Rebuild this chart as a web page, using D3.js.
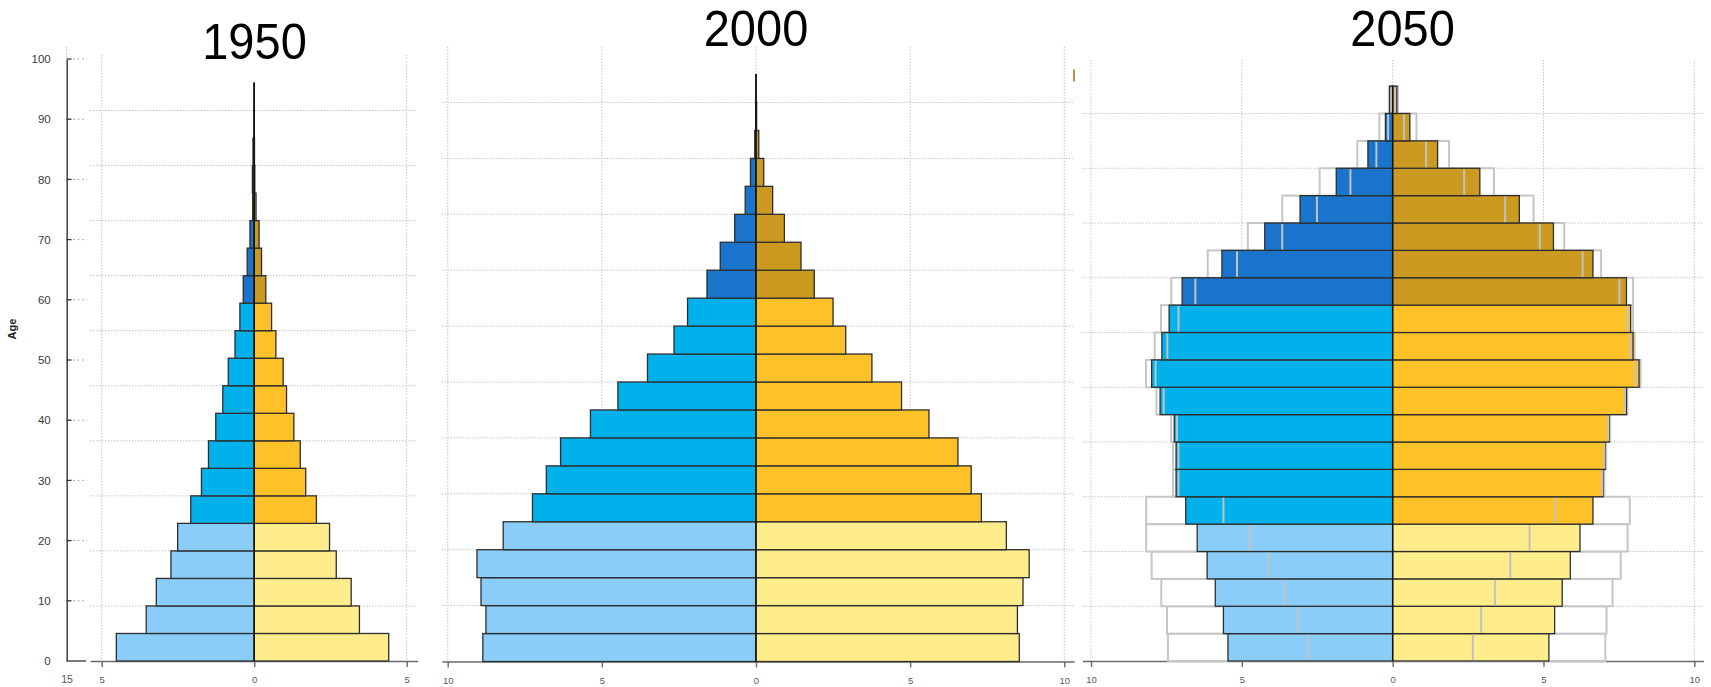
<!DOCTYPE html>
<html>
<head>
<meta charset="utf-8">
<script src="https://cdn.jsdelivr.net/npm/d3@7"></script>
<style>
  body { margin: 0; background: #ffffff; }
  svg { display: block; font-family: "Liberation Sans", Arial, sans-serif; }
</style>
</head>
<body>
<script>

// age groups, bottom to top
var ageGroups = ["0-4", "5-9", "10-14", "15-19", "20-24", "25-29", "30-34", "35-39", "40-44",
                 "45-49", "50-54", "55-59", "60-64", "65-69", "70-74", "75-79", "80-84",
                 "85-89", "90-94", "95-99", "100+"];

// share of population (%) per age group
var male1950   = [4.52, 3.54, 3.21, 2.73, 2.51, 2.08, 1.73, 1.50, 1.26, 1.03, 0.85, 0.63, 0.47, 0.36, 0.23, 0.14, 0.05, 0.06, 0.04, 0.01, 0.005];
var female1950 = [4.41, 3.45, 3.18, 2.69, 2.47, 2.04, 1.69, 1.51, 1.30, 1.06, 0.95, 0.71, 0.57, 0.38, 0.24, 0.16, 0.06, 0.02, 0.01, 0.002, 0.001];

var male2000   = [8.86, 8.76, 8.92, 9.05, 8.20, 7.25, 6.80, 6.34, 5.37, 4.48, 3.52, 2.66, 2.22, 1.59, 1.16, 0.69, 0.35, 0.18, 0.04, 0.01, 0.003];
var female2000 = [8.54, 8.48, 8.66, 8.86, 8.12, 7.31, 6.98, 6.55, 5.61, 4.72, 3.76, 2.91, 2.50, 1.89, 1.46, 0.92, 0.54, 0.25, 0.09, 0.02, 0.005];

var male2050   = [5.46, 5.61, 5.88, 6.15, 6.48, 6.86, 7.18, 7.18, 7.24, 7.71, 7.99, 7.65, 7.41, 6.98, 5.66, 4.24, 3.07, 1.87, 0.82, 0.24, 0.10];
var female2050 = [5.18, 5.37, 5.62, 5.89, 6.21, 6.64, 6.98, 7.05, 7.18, 7.75, 8.17, 7.97, 7.89, 7.75, 6.64, 5.33, 4.20, 2.89, 1.49, 0.57, 0.14];

// 2050 variants: outer grey outline and inner grey marker
var maleHigh2050   = [7.45, 7.48, 7.67, 7.99, 8.17, 8.17, 7.28, 7.28, 7.34, 7.83, 8.18, 7.89, 7.68, 7.34, 6.13, 4.80, 3.66, 2.42, 1.17, 0.44, 0.12];
var femaleHigh2050 = [7.05, 7.09, 7.29, 7.56, 7.79, 7.86, 7.02, 7.08, 7.21, 7.78, 8.22, 8.02, 7.97, 7.97, 6.91, 5.69, 4.67, 3.36, 1.87, 0.79, 0.18];
var maleLow2050    = [2.82, 3.12, 3.56, 4.12, 4.74, 5.61, 7.10, 7.10, 7.15, 7.59, 7.86, 7.47, 7.10, 6.54, 5.16, 3.66, 2.51, 1.40, 0.54, 0.15, 0.05];
var femaleLow2050  = [2.66, 2.93, 3.39, 3.90, 4.54, 5.39, 6.95, 7.02, 7.15, 7.70, 8.06, 7.87, 7.79, 7.52, 6.30, 4.88, 3.73, 2.37, 1.11, 0.38, 0.08];

// tick values
var ageTicks = [0, 10, 20, 30, 40, 50, 60, 70, 80, 90, 100];
var gridAges = [10, 20, 30, 40, 50, 60, 70, 80, 90, 100];
var xTicksSmall = [-5, 0, 5];
var xTicksLarge = [-10, -5, 0, 5, 10];

// colours: children, working age, elderly
var maleColors   = ["#89CDF8", "#00B1EB", "#1B74CB"];
var femaleColors = ["#FFEC8A", "#FEC128", "#CC9A21"];

window.onload = function() {
	draw();
};

// which colour band an age group falls in
function band(i) {
	if (i < 5) return 0;
	if (i < 13) return 1;
	return 2;
}

function draw() {

	var width = 1711, height = 687;

	var svg = d3.select("body")
				.append("svg")
				.attr("width", width)
				.attr("height", height);

	var panels = [
		{title: "1950", titleX: 254.5, titleY: 59, male: male1950, female: female1950,
		 xRange: [101.7, 406.7], xDomain: [-5, 5], axisExt: [-5.38, 5.36], ticks: xTicksSmall, vGrid: [-5, 5],
		 gridX: [90, 417], gridTop: 55, yRange: [661, 110.5], labelPad: 9},
		{title: "2000", titleX: 756, titleY: 46, male: male2000, female: female2000,
		 xRange: [447.7, 1064.3], xDomain: [-10, 10], axisExt: [-10.19, 10.32], ticks: xTicksLarge, vGrid: xTicksLarge,
		 gridX: [441.7, 1073], gridTop: 46.7, yRange: [661.5, 102.5], labelPad: 9.5},
		{title: "2050", titleX: 1402.6, titleY: 46, male: male2050, female: female2050,
		 high: [maleHigh2050, femaleHigh2050], low: [maleLow2050, femaleLow2050],
		 xRange: [1091, 1694.3], xDomain: [-10, 10], axisExt: [-10.28, 10.3], ticks: xTicksLarge, vGrid: xTicksLarge,
		 gridX: [1082.7, 1704], gridTop: 60, yRange: [661, 113.5], labelPad: 9}
	];

	panels.forEach(function(p) { drawPanel(svg, p); });

	// left age axis (only on the first panel)
	var yAxisScale = d3.scaleLinear().domain([0, 100]).range([661, 59]);
	var yAxis = svg.append("g")
				   .attr("transform", "translate(66.7,0)")
				   .call(d3.axisLeft(yAxisScale).tickValues(ageTicks).tickSize(0).tickPadding(16));
	yAxis.select(".domain").attr("stroke", "#4a4a4a").attr("stroke-width", 1.6);
	yAxis.selectAll("text")
		 .attr("font-size", "11.5px")
		 .attr("font-family", "Liberation Sans, Arial, sans-serif")
		 .attr("fill", "#3a3a3a");

	// tick stubs: short solid part, then dashes
	ageTicks.forEach(function(t) {
		var y = yAxisScale(t);
		svg.append("line")
		   .attr("x1", 66.7).attr("x2", t === 0 ? 86 : 71.5)
		   .attr("y1", y).attr("y2", y)
		   .attr("stroke", "#333").attr("stroke-width", 1.3);
		if (t !== 0) {
			svg.append("line")
			   .attr("x1", 73).attr("x2", 87)
			   .attr("y1", y).attr("y2", y)
			   .attr("stroke", "#aaa").attr("stroke-width", 1)
			   .attr("stroke-dasharray", "2,2.5");
		}
	});

	// dotted stub above the axis
	svg.append("line")
	   .attr("x1", 66.7).attr("x2", 66.7).attr("y1", 47).attr("y2", 58)
	   .attr("stroke", "#bbb").attr("stroke-dasharray", "1.5,1.5");

	// axis title
	svg.append("text")
	   .attr("transform", "translate(16,329) rotate(-90)")
	   .attr("text-anchor", "middle")
	   .attr("font-size", "11px")
	   .attr("font-weight", "bold")
	   .attr("fill", "#222")
	   .text("Age");

	// stray label under the age axis
	svg.append("text")
	   .attr("x", 67).attr("y", 683)
	   .attr("text-anchor", "middle")
	   .attr("font-size", "10.5px")
	   .attr("fill", "#555")
	   .text("15");

	// small orange mark at the left of the last panel
	svg.append("line")
	   .attr("x1", 1074).attr("x2", 1074).attr("y1", 69.5).attr("y2", 81.5)
	   .attr("stroke", "#C98A4E").attr("stroke-width", 2);
}

function drawPanel(svg, p) {

	var x = d3.scaleLinear().domain(p.xDomain).range(p.xRange);
	var y = d3.scaleLinear().domain([0, 100]).range(p.yRange);
	var g = svg.append("g");

	// dotted grid
	g.selectAll(".hgrid")
	 .data(gridAges)
	 .enter().append("line")
	 .attr("x1", p.gridX[0]).attr("x2", p.gridX[1])
	 .attr("y1", function(d) { return y(d); })
	 .attr("y2", function(d) { return y(d); })
	 .attr("stroke", "#c4c4c4").attr("stroke-width", 1)
	 .attr("stroke-dasharray", "1.5,1.5");

	g.selectAll(".vgrid")
	 .data(p.vGrid)
	 .enter().append("line")
	 .attr("x1", function(d) { return x(d); })
	 .attr("x2", function(d) { return x(d); })
	 .attr("y1", p.gridTop).attr("y2", y(0))
	 .attr("stroke", "#c4c4c4").attr("stroke-width", 1)
	 .attr("stroke-dasharray", "1.5,1.5");

	// x axis, drawn on a longer copy of the scale so the line runs past the end ticks
	var axisScale = x.copy().domain(p.axisExt).range(p.axisExt.map(x));
	var xAxis = g.append("g")
				 .attr("transform", "translate(0," + y(0) + ")")
				 .call(d3.axisBottom(axisScale)
						 .tickValues(p.ticks)
						 .tickSize(6)
						 .tickSizeOuter(0)
						 .tickPadding(p.labelPad)
						 .tickFormat(function(d) { return Math.abs(d); }));
	xAxis.select(".domain").attr("stroke", "#6a6a6a").attr("stroke-width", 1.6);
	xAxis.selectAll(".tick line").attr("stroke", "#6a6a6a").attr("stroke-width", 1.4);
	xAxis.selectAll("text")
		 .attr("font-size", "9.5px")
		 .attr("font-family", "Liberation Sans, Arial, sans-serif")
		 .attr("fill", "#5a5a5a");

	var rows = ageGroups.map(function(a, i) {
		return {i: i, m: p.male[i], f: p.female[i]};
	});

	// grey outline of the high variant
	if (p.high) {
		[0, 1].forEach(function(side) {
			g.selectAll(".high" + side)
			 .data(rows)
			 .enter().append("rect")
			 .attr("x", function(d) { return side === 0 ? x(-p.high[0][d.i]) : x(0); })
			 .attr("width", function(d) { return side === 0 ? x(0) - x(-p.high[0][d.i]) : x(p.high[1][d.i]) - x(0); })
			 .attr("y", function(d) { return y(d.i * 5 + 5); })
			 .attr("height", function(d) { return y(d.i * 5) - y(d.i * 5 + 5); })
			 .attr("fill", "#ffffff")
			 .attr("stroke", "#c6c6c6")
			 .attr("stroke-width", 2);
		});
	}

	// male bars
	g.selectAll(".male")
	 .data(rows)
	 .enter().append("rect")
	 .attr("x", function(d) { return x(-d.m); })
	 .attr("width", function(d) { return x(0) - x(-d.m); })
	 .attr("y", function(d) { return y(d.i * 5 + 5); })
	 .attr("height", function(d) { return y(d.i * 5) - y(d.i * 5 + 5); })
	 .attr("fill", function(d) { return maleColors[band(d.i)]; })
	 .attr("stroke", "#2e2e2e")
	 .attr("stroke-width", 1.3);

	// female bars
	g.selectAll(".female")
	 .data(rows)
	 .enter().append("rect")
	 .attr("x", x(0))
	 .attr("width", function(d) { return x(d.f) - x(0); })
	 .attr("y", function(d) { return y(d.i * 5 + 5); })
	 .attr("height", function(d) { return y(d.i * 5) - y(d.i * 5 + 5); })
	 .attr("fill", function(d) { return femaleColors[band(d.i)]; })
	 .attr("stroke", "#2e2e2e")
	 .attr("stroke-width", 1.3);

	// inner marker lines of the low variant
	if (p.low) {
		[0, 1].forEach(function(side) {
			g.selectAll(".low" + side)
			 .data(rows)
			 .enter().append("line")
			 .attr("x1", function(d) { return side === 0 ? x(-p.low[0][d.i]) : x(p.low[1][d.i]); })
			 .attr("x2", function(d) { return side === 0 ? x(-p.low[0][d.i]) : x(p.low[1][d.i]); })
			 .attr("y1", function(d) { return y(d.i * 5 + 5) + 1; })
			 .attr("y2", function(d) { return y(d.i * 5) - 1; })
			 .attr("stroke", "#c2c2c2")
			 .attr("stroke-width", 2);
		});
	}

	// centre line
	g.append("line")
	 .attr("x1", x(0)).attr("x2", x(0))
	 .attr("y1", y(0)).attr("y2", y(105))
	 .attr("stroke", "#111")
	 .attr("stroke-width", 1.4);

	// panel title
	g.append("text")
	 .attr("transform", "translate(" + p.titleX + "," + p.titleY + ") scale(1,1.08)")
	 .attr("text-anchor", "middle")
	 .attr("font-size", "47px")
	 .attr("fill", "#000")
	 .text(p.title);
}

</script>
</body>
</html>
